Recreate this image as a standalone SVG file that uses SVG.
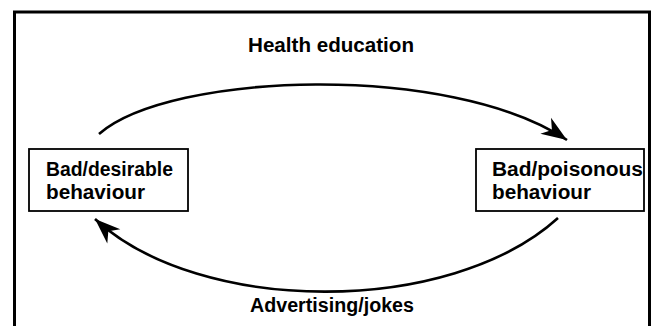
<svg xmlns="http://www.w3.org/2000/svg" width="655" height="326" viewBox="0 0 655 326">
<style>
.frame{fill:none;stroke:#000;stroke-width:3}
.box{fill:#fff;stroke:#000;stroke-width:1.8}
.lbl{font-family:"Liberation Sans",Arial,sans-serif;font-weight:bold;font-size:19.5px;fill:#000}
.arc{fill:none;stroke:#000;stroke-width:2.6}
</style>
<defs>
<marker id="ah" markerUnits="userSpaceOnUse" markerWidth="32" markerHeight="32" viewBox="-26 -13 30 26" refX="0" refY="0" orient="auto">
<path d="M0,0 L-24,-9 L-17,0 L-24,9 Z" fill="#000"/>
</marker>
</defs>
<rect width="655" height="326" fill="#fff"/>
<path class="frame" d="M14.5,330 L14.5,12 L649.5,12 L649.5,330"/>
<g id="connectors">
<path id="health" class="arc" d="M99,134 C170,72 450,62 567,140" marker-end="url(#ah)"/>
<path id="advert" class="arc" d="M558,218 C450,316 200,316 95,219" marker-end="url(#ah)"/>
<text class="lbl" x="248" y="52" textLength="166" lengthAdjust="spacingAndGlyphs">Health education</text>
<text class="lbl" x="250" y="312" textLength="164" lengthAdjust="spacingAndGlyphs">Advertising/jokes</text>
</g>
<g id="node-desirable">
<rect class="box" x="29" y="149" width="159" height="62"/>
<text class="lbl" x="46" y="176" textLength="127" lengthAdjust="spacingAndGlyphs">Bad/desirable</text>
<text class="lbl" x="46" y="199" textLength="99" lengthAdjust="spacingAndGlyphs">behaviour</text>
</g>
<g id="node-poisonous">
<rect class="box" x="476" y="149" width="168" height="62"/>
<text class="lbl" x="492" y="176" textLength="151" lengthAdjust="spacingAndGlyphs">Bad/poisonous</text>
<text class="lbl" x="492" y="199" textLength="99" lengthAdjust="spacingAndGlyphs">behaviour</text>
</g>
</svg>
